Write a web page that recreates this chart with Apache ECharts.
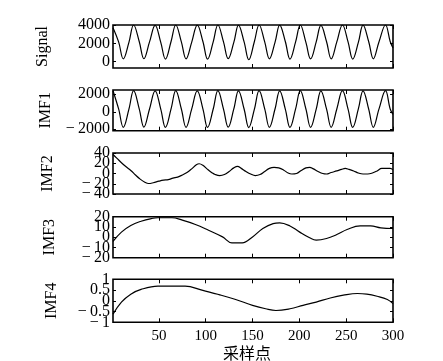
<!DOCTYPE html>
<html><head><meta charset="utf-8">
<script src="https://cdn.jsdelivr.net/npm/echarts@6/dist/echarts.min.js"></script>
<style>html,body{margin:0;padding:0;background:#fff}#c{width:443px;height:361px}</style>
</head><body><div id="c"></div>
<script>
// sample positions for the fast oscillation (peaks, troughs and crossings)
const sampleX = [1,7,12,18,23,29,34,40,46,52,57,63,68,74,79,85,91,97,102,108,113,119,124,130,135,141,146,152,157,163,168,174,179,185,190,196,201,207,212,218,223,229,234,240,246,252,257,263,268,274,279,285,292,297,300];
const signal = [3700,2150,300,2100,4000,2200,320,2150,3950,2100,280,2200,4000,2150,300,2100,3980,2200,260,2150,4000,2150,320,2100,3980,2150,200,2200,4000,2150,300,2100,3980,2200,280,2150,4000,2100,300,2150,3950,2200,300,2150,4000,2150,280,2100,3980,2200,300,2150,4000,2200,1500];
const imf1 = [2400,320,-1770,300,2400,330,-1760,310,2380,300,-1780,320,2400,310,-1770,300,2390,330,-1790,310,2400,300,-1760,320,2390,310,-1800,300,2400,320,-1770,310,2390,300,-1780,320,2400,310,-1770,300,2380,320,-1770,310,2400,300,-1780,320,2390,310,-1770,300,2400,320,-300];

const imf2X = [1,5,10,15,20,25,30,35,39,44,50,55,60,65,70,75,80,85,90,93,97,102,107,110,115,120,125,130,134,138,143,148,153,158,163,168,173,178,183,188,192,197,202,207,211,215,220,225,229,234,240,245,249,253,258,263,268,273,278,283,288,293,297,300];
const imf2 = [37,30,21,13,6,-3,-11,-17,-19.5,-18,-15,-13,-12,-9,-7,-3,2,9,17,19,16,8,1,-2,-4,-2,4,11,14,10,4,-1,-4,-2,4,10,12,11,7,1,-1,0,6,11,12,9,4,0,-1,2,5,8,10,8,5,1,-1,-1,1,5,10,10,10,7];

const imf3X = [1,10,20,31,42,49,64,75,89,103,118,128,139,150,161,172,179,190,200,211,218,229,240,251,265,276,287,300];
const imf3 = [-4,5,11.5,15.6,18.2,19,19,16.6,12.4,6.8,0.3,-5.5,-5.5,0.3,8.5,13.3,14,11,5.2,-0.6,-2.9,-1.3,2.6,7.5,11,11,9.1,8.5];

const imf4X = [1,10,20,31,49,78,96,114,132,150,164,175,190,204,218,233,247,262,272,283,294,300];
const imf4 = [-0.62,-0.06,0.31,0.53,0.68,0.68,0.5,0.29,0.06,-0.21,-0.37,-0.45,-0.37,-0.21,-0.06,0.13,0.26,0.34,0.31,0.21,0.06,-0.13];

const panelNames = ['Signal','IMF1','IMF2','IMF3','IMF4'];
const yTickValues = [[0,2000,4000],[-2000,0,2000],[-40,-20,0,20,40],[-20,-10,0,10,20],[-1,-0.5,0,0.5,1]];
const yLimits = [[-700,4000],[-2160,2480],[-40,40],[-20,20],[-1,1]];
const xTickValues = [50,100,150,200,250,300];
const xLimits = [1,300];
const xName = '采样点';

const seriesX = [sampleX, sampleX, imf2X, imf3X, imf4X];
const seriesY = [signal, imf1, imf2, imf3, imf4];

const gridTops = [25, 90, 153, 216.7, 279.3];
const gridHeights = [43, 40.7, 41, 41, 43];
const nameGaps = [62, 59, 57, 55, 53];

const serif = '"Liberation Serif","Times New Roman",serif';
const fmt = v => v < 0 ? '\u2212\u2009' + Math.abs(v) : String(v);
const yLabelStyle = {margin:3, fontFamily:serif, fontSize:16, color:'#000', formatter:fmt,
  showMinLabel:true, showMaxLabel:true, hideOverlap:false};

const grids = [], xAxes = [], yAxes = [], series = [];
for (let i = 0; i < 5; i++) {
  grids.push({left:113, width:280, top:gridTops[i], height:gridHeights[i], show:true,
    borderColor:'#000', borderWidth:1.6, backgroundColor:'transparent', outerBoundsMode:'none', containLabel:false});
  const tick = {inside:true, length:4, customValues:xTickValues, lineStyle:{color:'#000', width:1}};
  xAxes.push({gridIndex:i, type:'value', min:xLimits[0], max:xLimits[1], position:'bottom',
    axisLine:{show:false, onZero:false}, splitLine:{show:false}, axisTick:tick,
    axisLabel:{show:i===4, customValues:xTickValues, margin:6, fontFamily:serif, fontSize:15, color:'#000',
      showMinLabel:true, showMaxLabel:true, hideOverlap:false}});
  xAxes.push({gridIndex:i, type:'value', min:xLimits[0], max:xLimits[1], position:'top',
    axisLine:{show:false, onZero:false}, splitLine:{show:false}, axisTick:tick, axisLabel:{show:false}});
  const all = yTickValues[i];
  const setA = all.filter((v, k) => k % 2 === 0);
  const setB = all.filter((v, k) => k % 2 === 1);
  const ytick = {inside:true, length:3, customValues:all, lineStyle:{color:'#000', width:1}};
  const base = {gridIndex:i, type:'value', min:yLimits[i][0], max:yLimits[i][1],
    axisLine:{show:false, onZero:false}, splitLine:{show:false}};
  // main left axis: all ticks, every other label, panel name
  yAxes.push(Object.assign({}, base, {position:'left', axisTick:ytick,
    axisLabel:Object.assign({customValues:setA}, yLabelStyle),
    name:panelNames[i], nameLocation:'middle', nameGap:nameGaps[i], nameRotate:90,
    nameTextStyle:{fontFamily:serif, fontSize:16, color:'#000'}}));
  // second left axis: the remaining labels (kept apart so none get dropped)
  yAxes.push(Object.assign({}, base, {position:'left', offset:0, axisTick:{show:false},
    axisLabel:Object.assign({customValues:setB}, yLabelStyle)}));
  // right mirror axis: ticks only
  yAxes.push(Object.assign({}, base, {position:'right', axisTick:ytick, axisLabel:{show:false}}));
  series.push({type:'line', xAxisIndex:2*i, yAxisIndex:3*i,
    data:seriesX[i].map((x, k) => [x, seriesY[i][k]]),
    showSymbol:false, smooth:0.4, lineStyle:{color:'#000', width:1.2}, clip:true});
}

const chart = echarts.init(document.getElementById('c'), null, {renderer:'canvas'});
chart.setOption({
  animation:false, backgroundColor:'#fff',
  grid:grids, xAxis:xAxes, yAxis:yAxes, series:series,
  graphic:[{type:'text', left:223, top:345, style:{text:xName, font:'16px "Noto Sans CJK SC"', fill:'#000'}}]
});
</script></body></html>
